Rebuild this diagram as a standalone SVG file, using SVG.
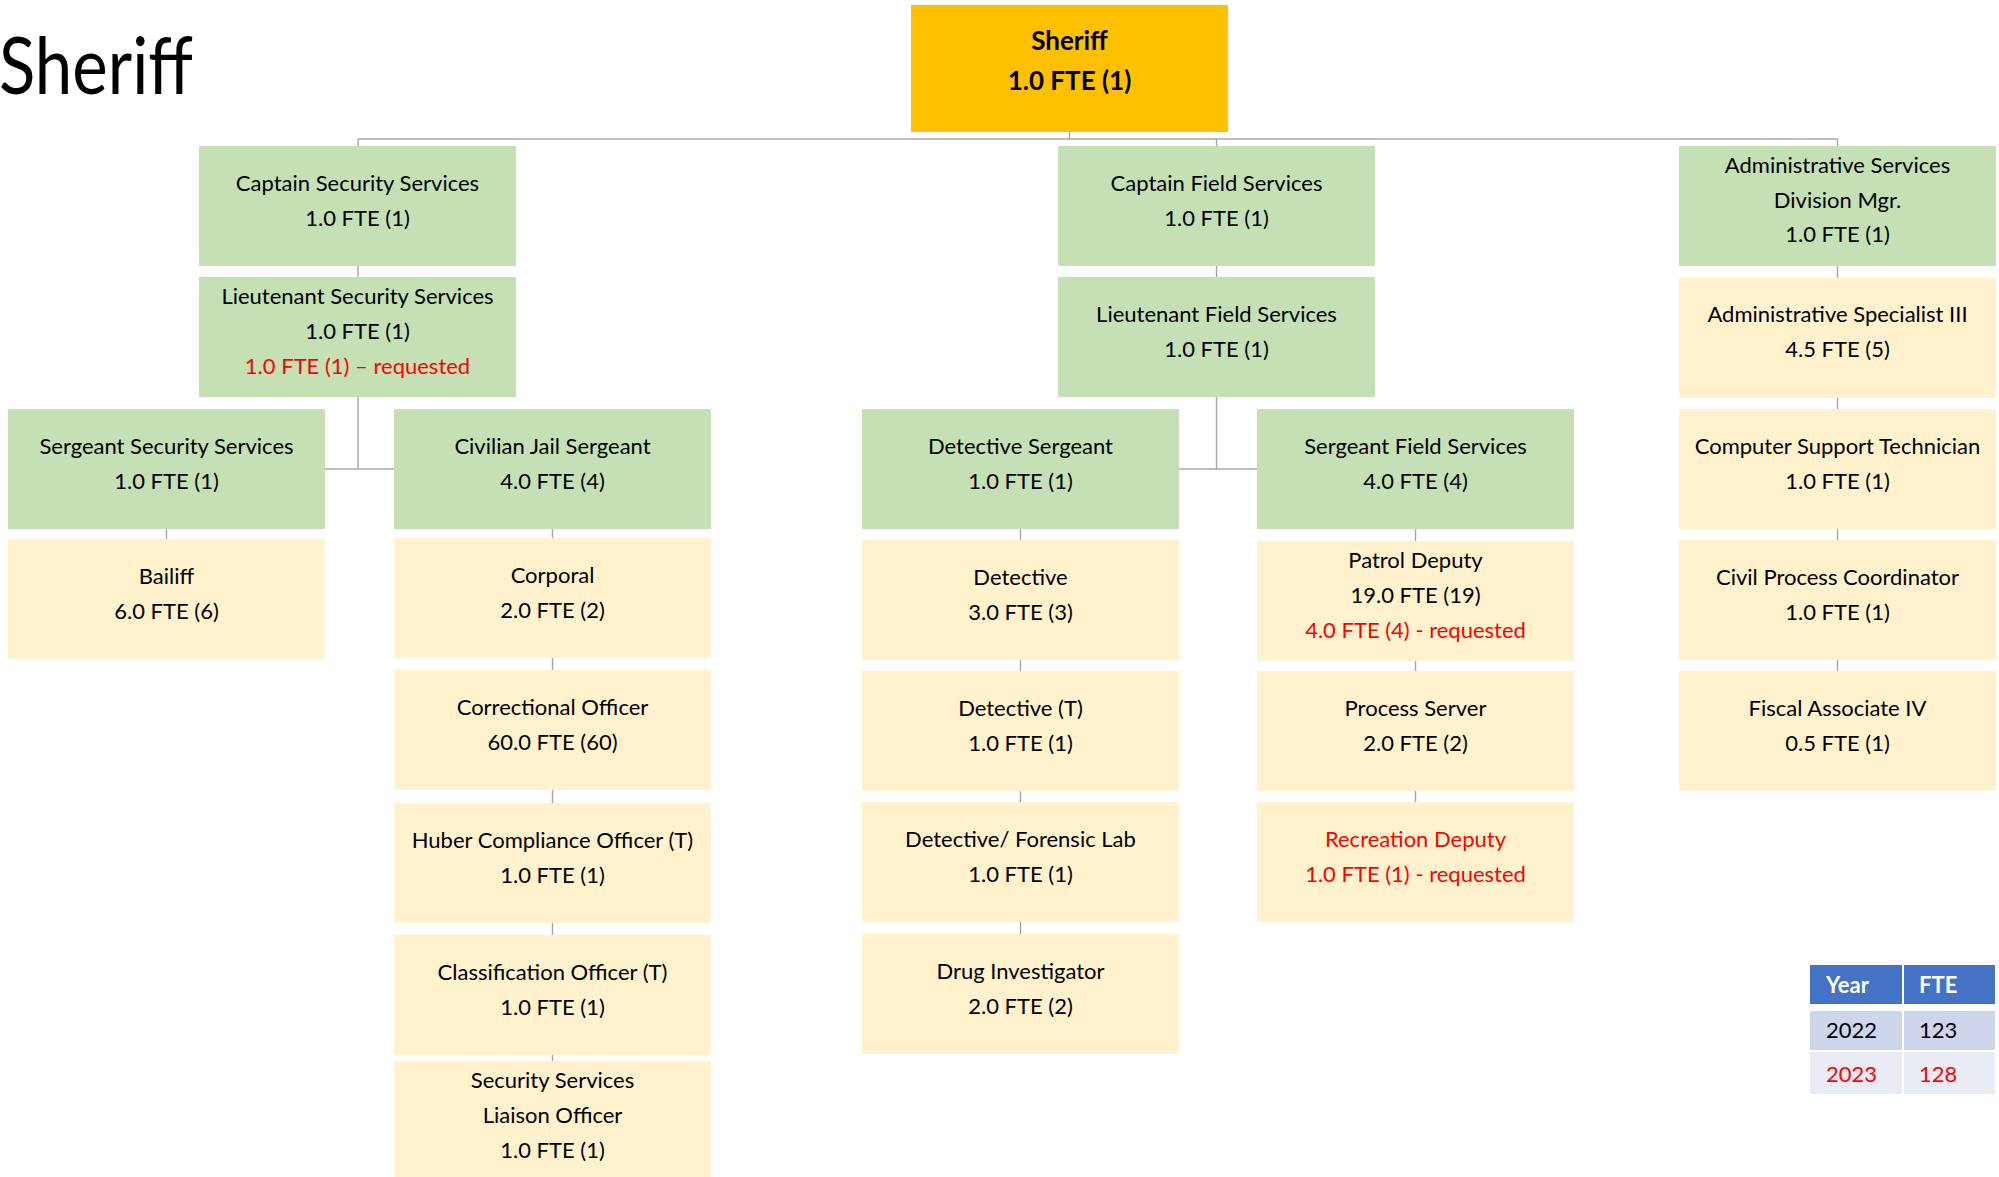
<svg xmlns="http://www.w3.org/2000/svg" width="1999" height="1177" viewBox="0 0 1999 1177">
<style>
.g{fill:#C5E0B4}
.y{fill:#FFF2CC}
.t{font-family:Lato,"Liberation Sans",sans-serif;font-size:22px;fill:#000;text-anchor:middle}
.r{fill:#FF0000}
.b{font-weight:bold;font-size:26px}
.c{stroke:#A6A6A6;stroke-width:1.4;fill:none}
.tt{font-family:Lato,"Liberation Sans",sans-serif;font-size:22px}
</style>
<rect width="1999" height="1177" fill="#FFFFFF"/>
<text x="-1" y="94" font-family="Lato,'Liberation Sans',sans-serif" font-size="80" fill="#000" textLength="194" lengthAdjust="spacingAndGlyphs">Sheriff</text>
<g id="connectors">
<path class="c" d="M358 139H1837.5" stroke-width="2"/>
<path class="c" d="M1069.5 132V139M358 139V146M1216.5 139V146M1837.5 139V146"/>
<path class="c" d="M358 266V277M358 397V469M325 469H394M166.5 529V539M552.5 529V1061"/>
<path class="c" d="M1216.5 266V277M1216.5 397V469M1179 469H1257M1020.5 529V934M1415.5 529V802"/>
<path class="c" d="M1837.5 266V671"/>
</g>
<g id="sheriff"><rect x="911" y="5" width="317" height="127" fill="#FFC000"/><text class="t b" x="1069.5" y="50">Sheriff</text><text class="t b" x="1069.5" y="90">1.0 FTE (1)</text></g>
<g id="captain-security"><rect class="g" x="199" y="146" width="317" height="120"/><text class="t" x="357.5" y="191">Captain Security Services</text><text class="t" x="357.5" y="226">1.0 FTE (1)</text></g>
<g id="lieutenant-security"><rect class="g" x="199" y="277" width="317" height="120"/><text class="t" x="357.5" y="304">Lieutenant Security Services</text><text class="t" x="357.5" y="339">1.0 FTE (1)</text><text class="t r" x="357.5" y="374">1.0 FTE (1) – requested</text></g>
<g id="captain-field"><rect class="g" x="1058" y="146" width="317" height="120"/><text class="t" x="1216.5" y="191">Captain Field Services</text><text class="t" x="1216.5" y="226">1.0 FTE (1)</text></g>
<g id="lieutenant-field"><rect class="g" x="1058" y="277" width="317" height="120"/><text class="t" x="1216.5" y="322">Lieutenant Field Services</text><text class="t" x="1216.5" y="357">1.0 FTE (1)</text></g>
<g id="admin-mgr"><rect class="g" x="1679" y="146" width="317" height="120"/><text class="t" x="1837.5" y="173">Administrative Services</text><text class="t" x="1837.5" y="208">Division Mgr.</text><text class="t" x="1837.5" y="242">1.0 FTE (1)</text></g>
<g id="admin-spec"><rect class="y" x="1679" y="278" width="317" height="120"/><text class="t" x="1837.5" y="322">Administrative Specialist III</text><text class="t" x="1837.5" y="357">4.5 FTE (5)</text></g>
<g id="sergeant-security"><rect class="g" x="8" y="409" width="317" height="120"/><text class="t" x="166.5" y="454">Sergeant Security Services</text><text class="t" x="166.5" y="489">1.0 FTE (1)</text></g>
<g id="civilian-jail-sergeant"><rect class="g" x="394" y="409" width="317" height="120"/><text class="t" x="552.5" y="454">Civilian Jail Sergeant</text><text class="t" x="552.5" y="489">4.0 FTE (4)</text></g>
<g id="detective-sergeant"><rect class="g" x="862" y="409" width="317" height="120"/><text class="t" x="1020.5" y="454">Detective Sergeant</text><text class="t" x="1020.5" y="489">1.0 FTE (1)</text></g>
<g id="sergeant-field"><rect class="g" x="1257" y="409" width="317" height="120"/><text class="t" x="1415.5" y="454">Sergeant Field Services</text><text class="t" x="1415.5" y="489">4.0 FTE (4)</text></g>
<g id="computer-support"><rect class="y" x="1679" y="409" width="317" height="120"/><text class="t" x="1837.5" y="454">Computer Support Technician</text><text class="t" x="1837.5" y="489">1.0 FTE (1)</text></g>
<g id="bailiff"><rect class="y" x="8" y="539" width="317" height="120"/><text class="t" x="166.5" y="584">Bailiff</text><text class="t" x="166.5" y="619">6.0 FTE (6)</text></g>
<g id="corporal"><rect class="y" x="394" y="538" width="317" height="120"/><text class="t" x="552.5" y="583">Corporal</text><text class="t" x="552.5" y="618">2.0 FTE (2)</text></g>
<g id="detective"><rect class="y" x="862" y="540" width="317" height="120"/><text class="t" x="1020.5" y="585">Detective</text><text class="t" x="1020.5" y="620">3.0 FTE (3)</text></g>
<g id="patrol-deputy"><rect class="y" x="1257" y="541" width="317" height="120"/><text class="t" x="1415.5" y="568">Patrol Deputy</text><text class="t" x="1415.5" y="603">19.0 FTE (19)</text><text class="t r" x="1415.5" y="638">4.0 FTE (4) - requested</text></g>
<g id="civil-process"><rect class="y" x="1679" y="540" width="317" height="120"/><text class="t" x="1837.5" y="585">Civil Process Coordinator</text><text class="t" x="1837.5" y="620">1.0 FTE (1)</text></g>
<g id="correctional-officer"><rect class="y" x="394" y="670" width="317" height="120"/><text class="t" x="552.5" y="715">Correctional Officer</text><text class="t" x="552.5" y="750">60.0 FTE (60)</text></g>
<g id="detective-t"><rect class="y" x="862" y="671" width="317" height="120"/><text class="t" x="1020.5" y="716">Detective (T)</text><text class="t" x="1020.5" y="751">1.0 FTE (1)</text></g>
<g id="process-server"><rect class="y" x="1257" y="671" width="317" height="120"/><text class="t" x="1415.5" y="716">Process Server</text><text class="t" x="1415.5" y="751">2.0 FTE (2)</text></g>
<g id="fiscal-associate"><rect class="y" x="1679" y="671" width="317" height="120"/><text class="t" x="1837.5" y="716">Fiscal Associate IV</text><text class="t" x="1837.5" y="751">0.5 FTE (1)</text></g>
<g id="huber"><rect class="y" x="394" y="803" width="317" height="120"/><text class="t" x="552.5" y="848">Huber Compliance Officer (T)</text><text class="t" x="552.5" y="883">1.0 FTE (1)</text></g>
<g id="forensic"><rect class="y" x="862" y="802" width="317" height="120"/><text class="t" x="1020.5" y="847">Detective/ Forensic Lab</text><text class="t" x="1020.5" y="882">1.0 FTE (1)</text></g>
<g id="recreation-deputy"><rect class="y" x="1257" y="802" width="317" height="120"/><text class="t r" x="1415.5" y="847">Recreation Deputy</text><text class="t r" x="1415.5" y="882">1.0 FTE (1) - requested</text></g>
<g id="classification"><rect class="y" x="394" y="935" width="317" height="120"/><text class="t" x="552.5" y="980">Classification Officer (T)</text><text class="t" x="552.5" y="1015">1.0 FTE (1)</text></g>
<g id="drug-investigator"><rect class="y" x="862" y="934" width="317" height="120"/><text class="t" x="1020.5" y="979">Drug Investigator</text><text class="t" x="1020.5" y="1014">2.0 FTE (2)</text></g>
<g id="liaison"><rect class="y" x="394" y="1061" width="317" height="120"/><text class="t" x="552.5" y="1088">Security Services</text><text class="t" x="552.5" y="1123">Liaison Officer</text><text class="t" x="552.5" y="1158">1.0 FTE (1)</text></g>
<g id="fte-table">
<rect x="1810" y="965" width="92" height="39" fill="#4472C4"/>
<rect x="1904" y="965" width="91" height="39" fill="#4472C4"/>
<rect x="1810" y="1011" width="92" height="39" fill="#CFD5EA"/>
<rect x="1904" y="1011" width="91" height="39" fill="#CFD5EA"/>
<rect x="1810" y="1052" width="92" height="42" fill="#E9EBF5"/>
<rect x="1904" y="1052" width="91" height="42" fill="#E9EBF5"/>
<text class="tt" x="1826" y="993" fill="#FFFFFF" font-weight="bold">Year</text>
<text class="tt" x="1919" y="993" fill="#FFFFFF" font-weight="bold">FTE</text>
<text class="tt" x="1826" y="1038" fill="#000">2022</text>
<text class="tt" x="1919" y="1038" fill="#000">123</text>
<text class="tt" x="1826" y="1082" fill="#FF0000">2023</text>
<text class="tt" x="1919" y="1082" fill="#FF0000">128</text>
</g>
</svg>
